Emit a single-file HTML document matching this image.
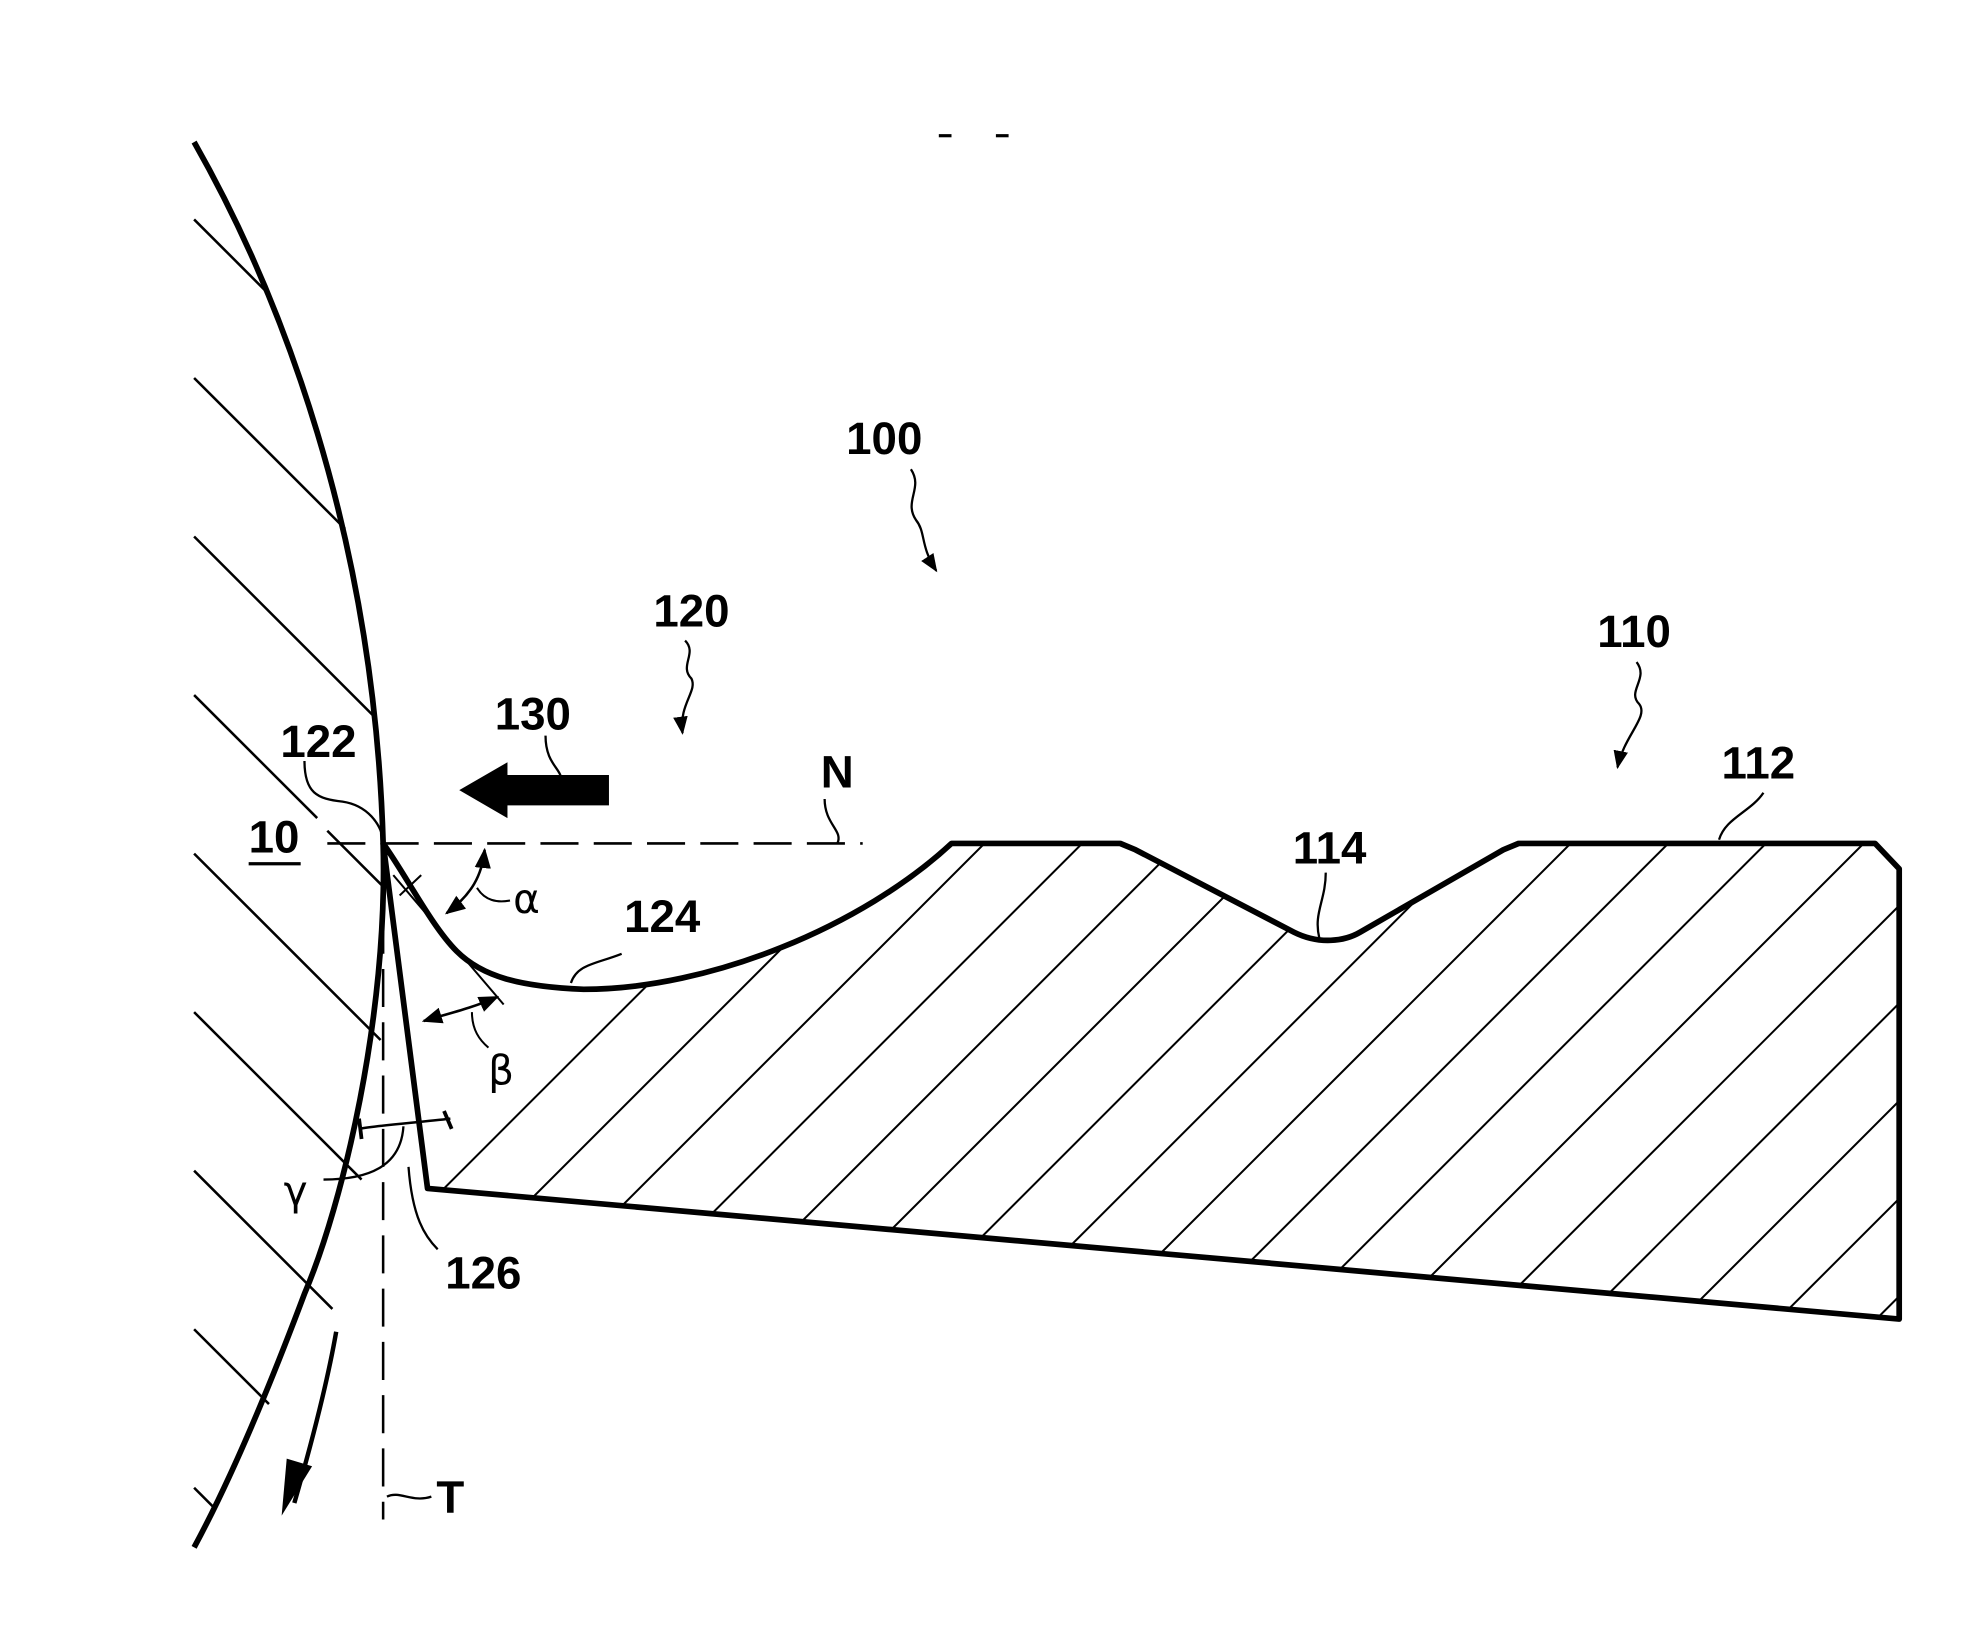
<!DOCTYPE html>
<html><head><meta charset="utf-8"><style>
html,body{margin:0;padding:0;background:#fff;}
svg{display:block;}
text{font-family:"Liberation Sans Narrow","Liberation Sans",sans-serif;font-weight:bold;font-size:36px;fill:#000;}
</style></head><body>
<svg width="1988" height="1626" viewBox="0 0 1567 1282" preserveAspectRatio="none" xmlns="http://www.w3.org/2000/svg">
<defs>
<clipPath id="blade">
<path d="M302,665 C320,690 340,730 360,750 C380,770 410,778 460,780 C560,780 680,730 750,665 L883,665 L895,670 L1020,735 C1040,745 1060,742 1072,735 L1185,670 L1197,665 L1478,665 L1497,685 L1497,1040 L337,937 Z"/>
</clipPath>
<marker id="ah" viewBox="0 0 10 10" refX="9" refY="5" markerWidth="8" markerHeight="8" orient="auto-start-reverse"><path d="M0,1 L10,5 L0,9 Z" fill="#000"/></marker>
</defs>
<g fill="none" stroke="#000">
<g stroke-width="2">
<line x1="153" y1="173" x2="210" y2="230"/>
<line x1="153" y1="298" x2="272" y2="417"/>
<line x1="153" y1="423" x2="295" y2="565"/>
<line x1="153" y1="548" x2="250" y2="645"/>
<line x1="258" y1="655" x2="303" y2="700"/>
<line x1="153" y1="673" x2="300" y2="820"/>
<line x1="153" y1="798" x2="285" y2="930"/>
<line x1="153" y1="923" x2="262" y2="1032"/>
<line x1="153" y1="1048" x2="212" y2="1107"/>
<line x1="153" y1="1173" x2="170" y2="1190"/>
</g>
<g clip-path="url(#blade)" stroke-width="1.6">
<line x1="187" y1="1100" x2="787" y2="500"/>
<line x1="264" y1="1100" x2="864" y2="500"/>
<line x1="341" y1="1100" x2="941" y2="500"/>
<line x1="418" y1="1100" x2="1018" y2="500"/>
<line x1="495" y1="1100" x2="1095" y2="500"/>
<line x1="572" y1="1100" x2="1172" y2="500"/>
<line x1="649" y1="1100" x2="1249" y2="500"/>
<line x1="726" y1="1100" x2="1326" y2="500"/>
<line x1="803" y1="1100" x2="1403" y2="500"/>
<line x1="880" y1="1100" x2="1480" y2="500"/>
<line x1="957" y1="1100" x2="1557" y2="500"/>
<line x1="1034" y1="1100" x2="1634" y2="500"/>
<line x1="1111" y1="1100" x2="1711" y2="500"/>
<line x1="1188" y1="1100" x2="1788" y2="500"/>
<line x1="1265" y1="1100" x2="1865" y2="500"/>
<line x1="1342" y1="1100" x2="1942" y2="500"/>
<line x1="1419" y1="1100" x2="2019" y2="500"/>
<line x1="1496" y1="1100" x2="2096" y2="500"/>
</g>
<path d="M153,112 C220,230 295,420 302,665 C306,800 270,950 240,1020 C210,1100 180,1170 153,1220" stroke-width="4.5"/>
<path d="M302,665 C320,690 340,730 360,750 C380,770 410,778 460,780 C560,780 680,730 750,665 L883,665 L895,670 L1020,735 C1040,745 1060,742 1072,735 L1185,670 L1197,665 L1478,665 L1497,685 L1497,1040 L337,937 Z" stroke-width="4.5" stroke-linejoin="round"/>
<line x1="258" y1="665" x2="680" y2="665" stroke-width="2" stroke-dasharray="30,12"/>
<line x1="302" y1="680" x2="302" y2="1198" stroke-width="2" stroke-dasharray="30,12"/>
<line x1="310" y1="690" x2="397" y2="792" stroke-width="1.6"/>
<line x1="315" y1="706" x2="332" y2="690" stroke-width="1.6"/>
<path d="M382,670 C380,690 372,705 352,720" stroke-width="2" marker-start="url(#ah)" marker-end="url(#ah)"/>
<path d="M334,805 C350,800 372,795 392,786" stroke-width="2" marker-start="url(#ah)" marker-end="url(#ah)"/>
<path d="M376,700 C382,710 392,712 402,710" stroke-width="1.6"/>
<path d="M372,798 C372,812 378,820 385,826" stroke-width="1.6"/>
<path d="M283,890 C300,887 330,885 355,882" stroke-width="2"/>
<line x1="283" y1="882" x2="285" y2="898" stroke-width="3"/>
<line x1="350" y1="876" x2="356" y2="890" stroke-width="3"/>
<path d="M240,600 C240,625 250,630 270,632 C290,635 300,650 302,662" stroke-width="1.8"/>
<path d="M430,580 C430,600 440,605 442,612" stroke-width="1.8"/>
<path d="M650,630 C650,650 665,655 660,665" stroke-width="1.8"/>
<path d="M450,775 C455,760 470,760 490,752" stroke-width="1.8"/>
<path d="M1045,688 C1045,710 1035,720 1040,740" stroke-width="1.8"/>
<path d="M1390,625 C1380,640 1360,645 1355,662" stroke-width="1.8"/>
<path d="M322,920 C325,960 335,975 345,985" stroke-width="1.8"/>
<path d="M318,888 C316,920 290,930 255,930" stroke-width="1.8"/>
<path d="M305,1180 C315,1175 325,1185 340,1180" stroke-width="1.8"/>
<path d="M718,370 C728,385 712,395 722,410 C730,420 725,430 738,450" stroke-width="1.8" marker-end="url(#ah)"/>
<path d="M540,505 C550,515 535,525 545,535 C550,545 535,555 538,578" stroke-width="1.8" marker-end="url(#ah)"/>
<path d="M1290,522 C1300,535 1282,545 1292,555 C1300,565 1280,580 1275,605" stroke-width="1.8" marker-end="url(#ah)"/>
<path d="M265,1050 C258,1090 245,1140 232,1185" stroke-width="3.5"/>
</g>
<polygon points="222,1195 226,1150 246,1156" fill="#000"/>
<polygon points="362,623 400,601 400,611 480,611 480,635 400,635 400,645" fill="#000"/>
<line x1="740" y1="107" x2="750" y2="107" stroke="#000" stroke-width="2.5"/>
<line x1="785" y1="107" x2="795" y2="107" stroke="#000" stroke-width="2.5"/>
<text x="697" y="358" text-anchor="middle">100</text>
<text x="545" y="494" text-anchor="middle">120</text>
<text x="420" y="575" text-anchor="middle">130</text>
<text x="251" y="597" text-anchor="middle">122</text>
<text x="660" y="621" text-anchor="middle">N</text>
<text x="216" y="672" text-anchor="middle">10</text>
<line x1="196" y1="681" x2="237" y2="681" stroke="#000" stroke-width="2.5"/>
<text x="522" y="735" text-anchor="middle">124</text>
<text x="1048" y="681" text-anchor="middle">114</text>
<text x="1386" y="614" text-anchor="middle">112</text>
<text x="1288" y="510" text-anchor="middle">110</text>
<text x="415" y="720" text-anchor="middle" style="font-weight:normal;font-family:'DejaVu Sans',sans-serif;font-size:32px">α</text>
<text x="395" y="855" text-anchor="middle" style="font-weight:normal;font-family:'DejaVu Sans',sans-serif;font-size:32px">β</text>
<text x="233" y="950" text-anchor="middle" style="font-weight:normal;font-family:'DejaVu Sans',sans-serif;font-size:32px">γ</text>
<text x="381" y="1016" text-anchor="middle">126</text>
<text x="355" y="1193" text-anchor="middle">T</text>
</svg>
</body></html>
